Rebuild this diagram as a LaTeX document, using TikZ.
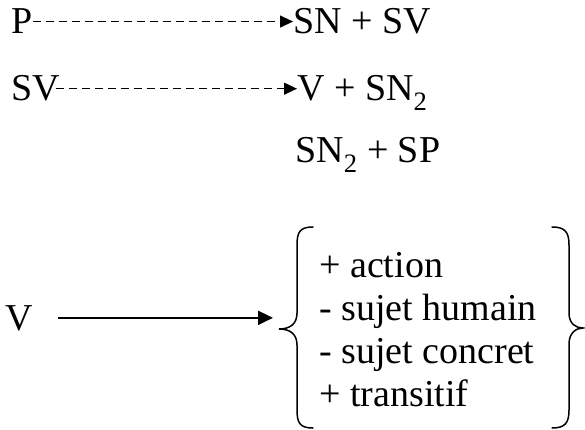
\documentclass[tikz,border=0pt]{standalone}
\usepackage{fontspec}
\setmainfont{Liberation Serif}
\usetikzlibrary{arrows.meta}

\tikzset{
  rule/.style={inner sep=0pt, anchor=base west, font=\fontsize{38}{43}\selectfont},
  rewrite/.style={line width=1.2pt, dash pattern=on 8pt off 5pt, -{Triangle[length=13pt,width=12pt]}},
  feature/.style={line width=2pt, -{Triangle[length=15pt,width=14pt]}},
  brace/.style={line width=1.5pt, line cap=round}
}

\begin{document}
\begin{tikzpicture}[x=1pt,y=-1pt]
            \useasboundingbox (0,0) rectangle (585,430);

            \node[rule] (P) at (11,34) {P};
            \node[rule] (SNSV) at (293,34) {SN + SV};
            \draw[rewrite] (P.east) -- (P.east -| SNSV.west);

            \node[rule] (SV) at (11,101) {SV};
            \node[rule] (VSN) at (297,101) {V + SN\textsubscript{2}};
            \draw[rewrite] ([xshift=-4pt]SV.east) -- (SV.east -| VSN.west);

            \node[rule] (SNSP) at (295,163) {SN\textsubscript{2} + SP};

            \node[rule] (V) at (5,330) {V};
            \coordinate (lb) at (279,329);
            \draw[feature, shorten <=25pt, shorten >=6pt] (V.east) -- (V.east -| lb);

            \foreach \t [count=\i] in {+ action, - sujet humain, - sujet concret, + transitif}
                \node[rule] (f\i) at (319,{234+43*\i}) {\t};

            \draw[brace] (313,227) .. controls (300,227) and (297,232) .. (297,245) -- (297,313)
                .. controls (297,324) and (290,329) .. (lb)
                .. controls (290,329) and (297,334) .. (297,345) -- (297,410)
                .. controls (297,423) and (300,428) .. (313,428);
            \draw[brace] (552,227) .. controls (565,227) and (569,232) .. (569,245) -- (569,313)
                .. controls (569,324) and (576,328) .. (583,328)
                .. controls (576,328) and (569,333) .. (569,344) -- (569,410)
                .. controls (569,423) and (565,428) .. (552,428);
        \end{tikzpicture}
\end{document}
